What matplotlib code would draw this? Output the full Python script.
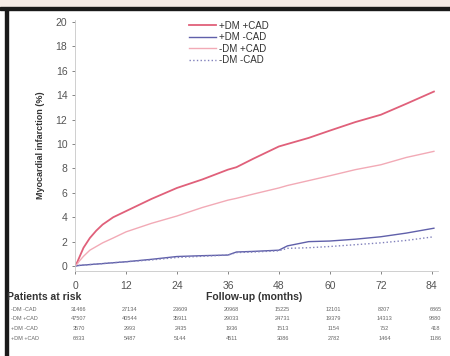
import matplotlib
matplotlib.use("Agg")
import matplotlib.pyplot as plt
from matplotlib.patches import Rectangle

plt.rcParams["font.family"] = "Liberation Sans"

# curve data (months, cumulative MI %)
months = [0, 0.5, 1, 2, 3.5, 5, 6.5, 9, 12, 18, 24, 30, 36, 38, 42, 48, 50, 55, 60, 66, 72, 78, 84.5]
dm_cad = [0, 0.3, 0.7, 1.5, 2.3, 2.9, 3.4, 4.0, 4.5, 5.5, 6.4, 7.1, 7.9, 8.1, 8.8, 9.8, 10.0, 10.5, 11.1, 11.8, 12.4, 13.3, 14.3]
dm_nocad = [0, 0.02, 0.05, 0.08, 0.12, 0.16, 0.2, 0.27, 0.35, 0.55, 0.78, 0.85, 0.9, 1.15, 1.2, 1.3, 1.65, 2.0, 2.05, 2.2, 2.4, 2.7, 3.1]
nodm_cad = [0, 0.15, 0.4, 0.8, 1.3, 1.6, 1.9, 2.3, 2.8, 3.5, 4.1, 4.8, 5.4, 5.55, 5.9, 6.4, 6.6, 7.0, 7.4, 7.9, 8.3, 8.9, 9.4]
nodm_nocad = [0, 0.02, 0.05, 0.08, 0.12, 0.16, 0.2, 0.27, 0.35, 0.5, 0.7, 0.8, 0.9, 1.1, 1.15, 1.25, 1.45, 1.5, 1.6, 1.75, 1.9, 2.1, 2.4]

series_labels = ["+DM +CAD", "+DM -CAD", "-DM +CAD", "-DM -CAD"]

# patients at risk table
risk_ticks = [0, 12, 24, 36, 48, 60, 72, 84]
risk_labels = ["-DM -CAD", "-DM +CAD", "+DM -CAD", "+DM +CAD"]
risk_rows = [
    [31466, 27134, 23609, 20968, 15225, 12101, 8207, 6865],
    [47507, 40544, 35911, 29033, 24731, 19379, 14313, 9880],
    [3570, 2993, 2435, 1936, 1513, 1154, 752, 418],
    [6833, 5487, 5144, 4511, 3086, 2782, 1464, 1186],
]

fig = plt.figure(figsize=(4.5, 3.56), dpi=100)
# beige band + dark frame of the scanned figure
fig.patches.append(Rectangle((0, 0.978), 1, 0.022, transform=fig.transFigure, color="#f5ebe6", zorder=0))
fig.patches.append(Rectangle((0, 0.972), 1, 0.007, transform=fig.transFigure, color="#1a1a1a", zorder=1))
fig.patches.append(Rectangle((0.011, 0), 0.006, 0.978, transform=fig.transFigure, color="#1a1a1a", zorder=1))

ax = fig.add_axes([0.1667, 0.239, 0.807, 0.706])
ax.plot(months, dm_cad, color="#e0607a", lw=1.3, label=series_labels[0])
ax.plot(months, dm_nocad, color="#6060aa", lw=1.0, label=series_labels[1])
ax.plot(months, nodm_cad, color="#f2aab6", lw=1.0, label=series_labels[2])
ax.plot(months, nodm_nocad, color="#8080bb", lw=1.0, ls=":", label=series_labels[3])

ax.set_xlim(0, 85.5)
ax.set_ylim(-0.4, 20.2)
ax.set_xticks(risk_ticks)
ax.set_yticks(range(0, 21, 2))
ax.tick_params(colors="#555555", labelsize=7.5, length=2, width=0.5)
ax.tick_params(axis="x", pad=5)
for s in ["top", "right"]:
    ax.spines[s].set_visible(False)
for s in ["left", "bottom"]:
    ax.spines[s].set_color("#c8c8c8")
    ax.spines[s].set_linewidth(0.6)
ax.set_ylabel("Myocardial infarction (%)", fontsize=6.5, color="#333333", labelpad=8, fontweight="bold")

leg = ax.legend(loc="upper left", bbox_to_anchor=(0.29, 1.03), frameon=False, fontsize=7,
                handlelength=2.8, handletextpad=0.3, labelspacing=0.15)
for t in leg.get_texts():
    t.set_color("#333333")

# risk table
fig.text(0.015, 0.165, "Patients at risk", fontsize=7.5, fontweight="bold", color="#333333", va="center")
fig.text(0.565, 0.165, "Follow-up (months)", fontsize=7.5, fontweight="bold", color="#333333", va="center", ha="center")
row_y = [0.132, 0.104, 0.076, 0.048]
for lab, vals, yy in zip(risk_labels, risk_rows, row_y):
    fig.text(0.025, yy, lab, fontsize=4, color="#666666", va="center")
    for m, v in zip(risk_ticks, vals):
        xf = ax.transData.transform((m, 0))[0] / fig.bbox.width
        fig.text(xf + 0.008, yy, str(v), fontsize=4, color="#666666", va="center", ha="center")

fig.savefig("out.png", dpi=100)
